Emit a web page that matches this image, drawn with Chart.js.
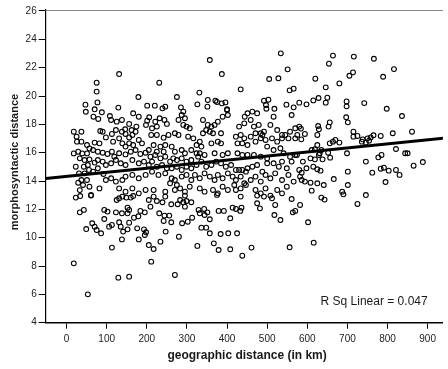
<!DOCTYPE html>
<html>
<head>
<meta charset="utf-8">
<title>Morphosyntactic vs geographic distance</title>
<script src="https://cdn.jsdelivr.net/npm/chart.js@4"></script>
<style>
  html, body { margin: 0; padding: 0; background: #fff; overflow: hidden; }
  canvas { display: block; }
</style>
</head>
<body>
<canvas id="scatter" width="448" height="369"></canvas>
<script>
// [geographic distance in km, morphosyntactic distance]
const observations = [
  [131,21.55],[75,20.94],[231,20.94],[75,20.31],[179,19.93],[77,19.55],[47,19.39],[129,19.18],[201,19.32],[220,19.32],[246,19.25],[239,19.13],
  [534,23.01],[357,22.54],[387,21.55],[551,21.88],[505,21.2],[528,21.25],[434,20.47],[556,20.4],[566,20.52],[275,19.93],[331,20.24],[285,19.2],
  [326,19.41],[352,19.72],[351,19.25],[371,19.67],[375,19.58],[387,19.48],[396,19.55],[492,19.67],[503,19.74],[497,19.36],[498,19.1],[548,19.39],
  [566,19.2],[580,19.53],[400,19.06],[518,19.1],
  [664,22.85],[716,22.78],[766,22.63],[654,22.28],[816,21.9],[714,21.67],[705,21.43],[789,21.36],[620,21.22],[680,20.89],[646,20.61],[598,19.41],
  [615,19.69],[628,19.86],[650,19.88],[646,19.53],[698,19.62],[698,19.27],[742,19.5],[798,19.1],
  [18,17.48],[25,17.13],[37,17.48],[26,16.78],[37,16.78],[18,15.95],[29,16.07],[39,15.95],[51,15.95],[57,16.3],[51,16.54],[33,15.6],
  [45,15.48],[57,15.53],[53,15.13],[43,15.01],[23,15.01],[31,14.54],[45,14.54],[56,14.78],[51,14.07],[37,14.07],[29,13.88],[41,13.72],
  [57,13.6],[33,13.36],[61,13.01],[48,18.89],
  [70,19.06],[67,18.54],[79,18.38],[88,18.85],[108,18.59],[111,18.31],[125,18.19],[138,18.31],[166,18.78],[180,18.54],[201,18.26],[206,18.5],
  [221,18.19],[232,18.43],[244,18.31],[250,18.03],[198,17.96],[213,17.72],[225,17.84],[156,18.03],[174,17.84],[146,17.65],[162,17.6],[172,17.48],
  [138,17.48],[123,17.6],[84,17.53],[90,17.48],[70,16.71],[82,16.66],[98,17.08],[113,17.32],[116,16.78],[131,17.01],[147,17.32],[156,17.08],
  [164,17.25],[139,16.66],[156,16.66],[147,16.43],[166,16.54],[180,16.9],[188,16.66],[211,17.25],[225,17.25],[242,17.06],[254,17.25],[217,16.54],
  [234,16.43],[246,16.54],[242,16.07],[225,16.07],[205,16.19],[66,16.19],[78,16.07],[90,16],[102,15.91],[113,16.07],[119,15.72],[131,15.96],
  [147,15.88],[160,16.07],[172,16.19],[184,15.91],[197,16],[209,15.72],[221,15.84],[234,15.6],[246,15.72],[70,15.3],[78,15.48],[90,15.37],
  [98,15.13],[111,15.25],[123,15.48],[135,15.25],[147,15.13],[164,15.48],[180,15.25],[193,15.37],[205,15.13],[213,15.37],[225,15.01],[238,15.13],
  [250,14.9],[82,13.48],[98,14.07],[111,14.19],[123,13.96],[139,14.07],[147,14.31],[164,14.43],[180,14.19],[197,14.43],[213,14.66],[229,14.43],
  [246,14.54],[131,13.48],[147,13.25],[164,13.48],[180,13.13],[197,13.37],[217,13.37],[246,13.25],[66,14.66],[78,14.9],[92,14.5],
  [291,18.9],[287,18.66],[295,18.43],[291,17.96],[299,17.84],[307,17.72],[279,18.31],[400,19.01],[402,18.66],[389,18.54],[451,18.78],[444,18.54],
  [463,18.9],[475,18.78],[516,18.54],[561,18.66],[340,18.31],[352,17.96],[361,17.84],[369,17.96],[377,18.19],[348,17.6],[340,17.37],[357,17.48],
  [365,17.37],[385,17.37],[430,17.84],[443,18.07],[459,18.31],[467,17.84],[479,17.96],[492,17.48],[484,17.37],[508,17.96],[525,17.6],[537,17.25],
  [545,17.25],[557,17.48],[570,17.72],[270,17.37],[279,17.25],[303,17.13],[316,17.01],[324,16.54],[332,16.78],[336,16.43],[262,16.43],[270,16.07],
  [287,16.19],[295,15.96],[311,16.19],[324,15.96],[332,15.96],[361,16.66],[377,16.78],[385,16.66],[369,15.96],[389,15.84],[402,15.96],[422,17.13],
  [434,17.25],[443,17.01],[459,17.13],[471,17.37],[488,17.25],[426,16.66],[438,16.66],[451,16.54],[471,16.78],[484,17.01],[496,16.9],[512,17.01],
  [525,16.78],[537,17.01],[553,17.01],[570,17.01],[500,16.43],[516,16.19],[533,16.31],[541,15.96],[557,15.72],[570,15.84],[426,15.96],[438,15.84],
  [451,15.84],[467,15.84],[484,15.72],[500,15.6],[258,15.37],[266,15.6],[275,15.48],[287,15.6],[299,15.37],[311,15.48],[328,15.72],[344,15.84],
  [262,14.9],[275,15.01],[287,14.78],[299,15.01],[311,14.9],[324,15.13],[336,15.37],[348,15.01],[361,15.13],[373,15.37],[385,15.25],[397,15.01],
  [410,15.13],[422,14.78],[430,14.78],[438,14.78],[447,14.66],[451,14.9],[463,15.01],[475,15.13],[488,14.66],[500,15.25],[516,15.25],[529,15.01],
  [537,15.37],[549,14.9],[561,15.37],[262,14.19],[270,14.07],[258,13.84],[275,13.72],[287,14.31],[299,14.43],[311,14.07],[320,14.43],[332,14.19],
  [344,14.54],[357,14.31],[369,14.07],[377,14.43],[389,14.19],[402,14.54],[414,14.31],[422,14.07],[434,14.31],[443,13.84],[459,14.07],[471,14.31],
  [484,13.96],[496,14.43],[508,14.19],[520,14.54],[537,14.07],[553,14.43],[566,13.96],[270,13.37],[283,13.48],[295,13.25],[307,13.6],[332,13.48],
  [344,13.25],[365,13.37],[377,13.13],[389,13.6],[402,13.37],[418,13.72],[422,13.37],[434,13.48],[447,13.72],[471,13.37],[484,13.13],[496,13.48],
  [525,13.37],[537,13.13],[549,13.6],
  [836,18.59],[697,18.5],[701,18.14],[656,18.14],[653,17.84],[627,17.88],[629,17.65],[625,17.25],[580,17.84],[584,17.7],[575,17.25],[594,17.32],
  [585,16.94],[715,17.48],[715,17.13],[725,17.18],[738,16.94],[750,17.01],[758,17.08],[765,17.23],[783,17.18],[813,17.37],[861,17.48],[736,16.78],
  [746,16.71],[754,16.85],[670,16.9],[664,16.78],[680,16.71],[656,16.66],[625,16.54],[619,16.24],[611,16.19],[635,16.19],[631,15.96],[652,16],
  [629,15.84],[608,15.6],[619,15.53],[638,15.53],[589,15.37],[574,15.84],[657,15.65],[699,15.96],[746,15.37],[777,15.67],[785,15.84],[821,16.26],
  [844,15.96],[850,15.96],[888,15.34],[865,15.08],[598,14.9],[615,15.01],[580,14.78],[586,14.59],[633,14.73],[625,14.83],[701,14.66],[762,14.59],
  [783,14.87],[791,14.94],[803,14.73],[821,14.78],[830,14.43],[582,14.31],[586,14.07],[594,13.96],[608,13.88],[625,13.84],[641,13.72],[666,14.14],
  [611,13.32],[701,13.72],[795,13.93],[687,13.25],[690,13.06],[746,13.01],
  [23,12.83],[34,12.94],[61,12.97],[131,12.78],[139,12.9],[149,12.83],[160,12.83],[166,12.94],[125,12.66],[205,12.66],[217,12.9],[225,12.59],
  [239,12.5],[246,12.9],[261,12.36],[33,11.79],[43,11.96],[94,11.96],[102,11.84],[123,11.79],[138,11.72],[152,11.72],[152,12.12],[156,11.96],
  [168,11.41],[179,11.51],[184,11.89],[195,11.79],[209,12.19],[231,11.72],[244,11.56],[256,11.56],[242,11.18],[261,11.09],[94,11.32],[64,11.02],
  [70,10.78],[49,10.61],[75,10.54],[86,10.31],[106,10.78],[113,10.9],[131,11.09],[135,10.78],[141,10.43],[152,10.59],[156,11.06],[176,10.66],
  [193,10.59],[198,10.38],[195,10.19],[180,9.88],[138,9.88],[234,9.72],[247,10.43],[113,9.3],[205,9.48],[217,9.2],[211,8.31],[18,8.19],
  [129,7.18],[156,7.25],[53,6.0],
  [277,12.36],[283,12.66],[291,12.5],[295,12.19],[299,12.59],[311,12.5],[295,12.97],[375,13.02],[434,12.9],[475,12.97],[492,12.9],[508,12.97],
  [512,12.78],[561,12.73],[582,12.31],[475,12.43],[482,12.07],[520,12.31],[288,11.02],[302,11.13],[313,11.41],[329,11.96],[332,11.72],[343,12.03],
  [344,11.6],[351,11.79],[357,11.3],[379,11.89],[392,11.89],[414,12.12],[422,12.03],[436,12.12],[433,11.89],[408,11.37],[518,11.6],[533,11.25],
  [564,11.79],[570,11.89],[336,10.71],[348,10.71],[357,10.31],[384,10.26],[403,10.31],[425,10.31],[280,10.07],[326,9.42],[367,9.6],[379,9.13],
  [408,9.18],[438,8.73],[461,9.3],[556,9.32],[270,7.37],
  [635,12.83],[643,12.69],[725,12.38],[602,11.09],[616,9.65]
];

// end points of the fitted linear line
const fitKm = [-52, 950];
const fitMorpho = [14.17, 17.05];

const xTicks = [0, 100, 200, 300, 400, 500, 600, 700, 800, 900];
const yTicks = [4, 6, 8, 10, 12, 14, 16, 18, 20, 22, 24, 26];
const rSqLabel = 'R Sq Linear = 0.047';

const fontFamily = '"Liberation Sans", Arial, Helvetica, sans-serif';

const decorations = {
  id: 'decorations',
  afterDraw(chart) {
    const { ctx, chartArea, scales } = chart;
    ctx.save();
    // grey frame line along the top
    ctx.strokeStyle = '#8a8a8a';
    ctx.lineWidth = 1;
    ctx.beginPath();
    ctx.moveTo(chartArea.left, chartArea.top + 0.5);
    ctx.lineTo(chartArea.right, chartArea.top + 0.5);
    ctx.stroke();

    ctx.fillStyle = '#1a1a1a';
    ctx.textBaseline = 'middle';

    ctx.font = 'bold 12px ' + fontFamily;
    ctx.textAlign = 'center';
    ctx.fillText('geographic distance (in km)', scales.x.getPixelForValue(450), 356);

    ctx.save();
    ctx.translate(15, 162);
    ctx.rotate(-Math.PI / 2);
    ctx.font = 'bold 11px ' + fontFamily;
    ctx.fillText('morphosyntactic distance', 0, 0);
    ctx.restore();

    ctx.font = '12px ' + fontFamily;
    ctx.textAlign = 'right';
    ctx.fillText(rSqLabel, scales.x.getPixelForValue(900), 301.5);
    ctx.restore();
  }
};

new Chart(document.getElementById('scatter'), {
  type: 'scatter',
  data: {
    datasets: [
      {
        type: 'line',
        data: fitKm.map((x, i) => ({ x, y: fitMorpho[i] })),
        borderColor: '#000',
        borderWidth: 3,
        pointRadius: 0,
        fill: false,
        order: 0
      },
      {
        data: observations.map(([x, y]) => ({ x, y })),
        pointStyle: 'circle',
        pointRadius: 2.4,
        borderWidth: 1.1,
        borderColor: '#000',
        backgroundColor: 'rgba(0,0,0,0)',
        order: 1
      }
    ]
  },
  options: {
    responsive: false,
    animation: false,
    devicePixelRatio: 1,
    layout: { padding: { top: 10, left: 0, right: 0, bottom: 0 } },
    plugins: { legend: { display: false }, tooltip: { enabled: false } },
    scales: {
      x: {
        type: 'linear',
        min: -52,
        max: 938,
        afterBuildTicks: s => { s.ticks = xTicks.map(v => ({ value: v })); },
        afterFit: s => { s.height = 46.3; },
        grid: { drawOnChartArea: false, drawTicks: true, tickLength: 6, color: '#000' },
        border: { display: true, color: '#000', width: 1.5 },
        ticks: { padding: 5, color: '#222', autoSkip: false, maxRotation: 0, font: { family: fontFamily, size: 10 } }
      },
      y: {
        type: 'linear',
        min: 4,
        max: 26.07,
        afterBuildTicks: s => { s.ticks = yTicks.map(v => ({ value: v })); },
        afterFit: s => { s.width = 45.7; },
        grid: { drawOnChartArea: false, drawTicks: true, tickLength: 7, color: '#000' },
        border: { display: true, color: '#000', width: 1.2 },
        ticks: { padding: 2, color: '#222', font: { family: fontFamily, size: 10 } }
      }
    }
  },
  plugins: [decorations]
});
</script>
</body>
</html>
